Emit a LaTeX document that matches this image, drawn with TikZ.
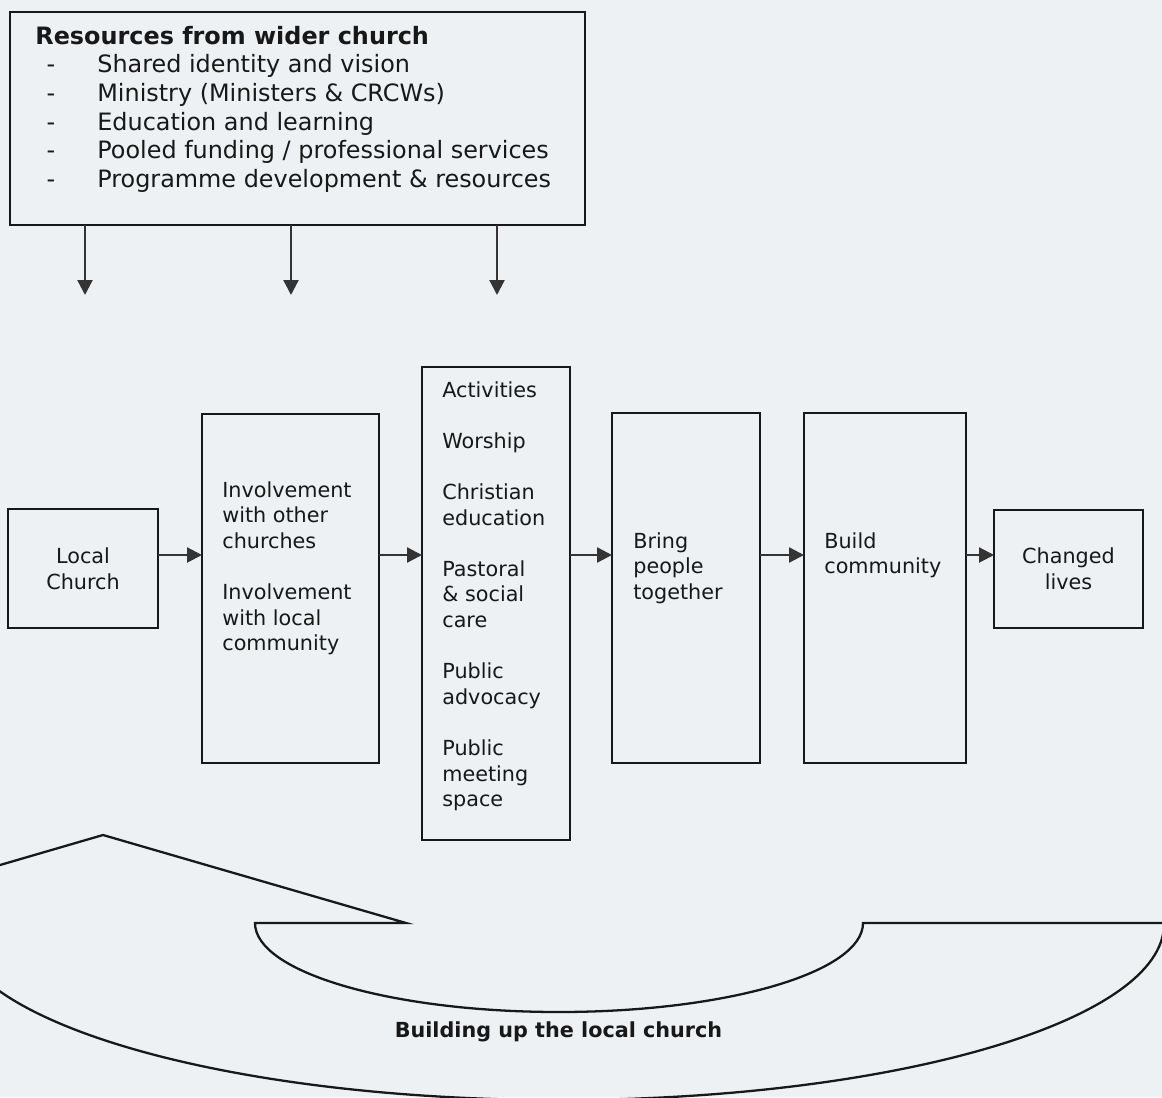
\documentclass[tikz,border=0pt]{standalone}
\usepackage{fontspec}
\setmainfont{DejaVu Sans}
\usetikzlibrary{arrows.meta}

\definecolor{paper}{RGB}{237,241,243}
\definecolor{ink}{RGB}{24,24,24}
\definecolor{headgrey}{RGB}{52,52,52}

\tikzset{
	box/.style={draw=ink, line width=1.3pt, fill=paper, inner sep=0pt, outer sep=0pt, anchor=north west},
	boxtext/.style={text=ink, align=left, inner sep=0pt, font=\fontsize{11.8pt}{14.6pt}\selectfont},
	listtext/.style={text=ink, inner sep=0pt, anchor=base west, font=\fontsize{13.6pt}{16.2pt}\selectfont},
	flow/.style={draw=headgrey, line width=1.3pt, -{Triangle[length=0.3cm,width=0.3cm]}},
}

\begin{document}
\begin{tikzpicture}
	\useasboundingbox (0,0) rectangle (23.24,-21.94);
	\fill[paper] (0,0) rectangle (23.24,-21.94);

	% resources box
	\node[box, minimum width=11.5cm, minimum height=4.26cm] (res) at (0.2,-0.24) {};
	\node[listtext, font=\fontsize{13.6pt}{16.2pt}\selectfont\bfseries] (title) at (0.7,-0.9) {Resources from wider church};
	\foreach \t [count=\i] in {{Shared identity and vision},{Ministry (Ministers \& CRCWs)},{Education and learning},{Pooled funding / professional services},{Programme development \& resources}} {
		\node[listtext, anchor=base] (dash\i) at (1.02,-1.46-0.57*\i+0.57) {-};
		\node[listtext] (item\i) at (1.94,-1.46-0.57*\i+0.57) {\t};
	}
	\foreach \x [count=\i] in {1.7,5.82,9.94} {
		\coordinate (down\i) at (\x,-5.9);
		\draw[flow] (res.south -| down\i) -- (down\i);
	}

	% main row
	\node[box, minimum width=3cm, minimum height=2.38cm] (local) at (0.16,-10.18) {};
	\node[boxtext, align=center] (localtxt) at (local.center) {Local\\Church};
	\node[box, minimum width=3.54cm, minimum height=6.98cm] (inv) at (4.04,-8.28) {};
	\node[boxtext, anchor=north west] (invtxt) at (4.44,-9.62) {Involvement\\with other\\churches\\[0.51cm]Involvement\\with local\\community};
	\node[box, minimum width=2.96cm, minimum height=9.46cm] (act) at (8.44,-7.34) {};
	\node[boxtext, anchor=north west] (acttxt) at (8.84,-7.62) {Activities\\[0.51cm]Worship\\[0.51cm]Christian\\education\\[0.51cm]Pastoral\\\&\ social\\care\\[0.51cm]Public\\advocacy\\[0.51cm]Public\\meeting\\space};
	\node[box, minimum width=2.96cm, minimum height=7cm] (bring) at (12.24,-8.26) {};
	\node[boxtext, anchor=north west] (bringtxt) at (12.66,-10.64) {Bring\\people\\together};
	\node[box, minimum width=3.24cm, minimum height=7cm] (build) at (16.08,-8.26) {};
	\node[boxtext, anchor=north west] (buildtxt) at (16.48,-10.64) {Build\\community};
	\node[box, minimum width=2.98cm, minimum height=2.36cm] (changed) at (19.88,-10.2) {};
	\node[boxtext, align=center] (changedtxt) at (changed.center) {Changed\\lives};

	\coordinate (lane) at (0,-11.1);
	\draw[flow] (local.east |- lane) -- (inv.west |- lane);
	\draw[flow] (inv.east |- lane) -- (act.west |- lane);
	\draw[flow] (act.east |- lane) -- (bring.west |- lane);
	\draw[flow] (bring.east |- lane) -- (build.west |- lane);
	\draw[flow] (build.east |- lane) -- (changed.west |- lane);

	% curved arrow
	\begin{scope}
		\clip (0,0) rectangle (23.24,-21.94);
		\draw[ink, line width=1.3pt, line join=miter] (17.26,-18.46) arc[start angle=0, end angle=-180, x radius=6.08, y radius=1.78]
			-- (8.12,-18.46) -- (2.06,-16.70) -- (-1.2,-17.65) -- (-0.92,-18.48)
			arc[start angle=180, end angle=360, x radius=12.1, y radius=3.52] -- (24,-18.46) -- cycle;
	\end{scope}
	\node[text=ink, inner sep=0pt, anchor=base, font=\fontsize{11.8pt}{14.6pt}\selectfont\bfseries] (band) at (11.17,-20.74) {Building up the local church};
\end{tikzpicture}
\end{document}
